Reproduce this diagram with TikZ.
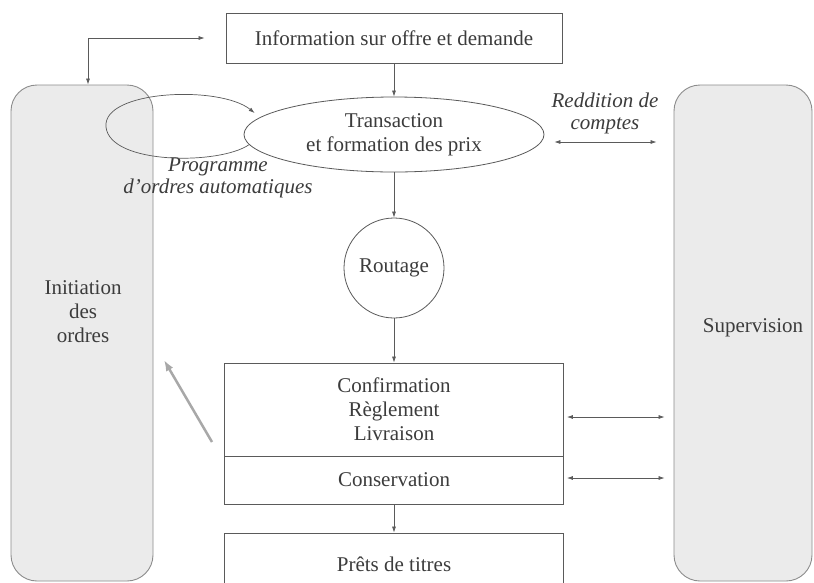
\documentclass[tikz,border=0pt]{standalone}
\usepackage{fontspec}
\setmainfont{Liberation Serif}
\usetikzlibrary{shapes.geometric, arrows.meta, calc}
\definecolor{linegray}{HTML}{5A5A5A}
\definecolor{txtgray}{HTML}{3C3C3C}
\definecolor{panelfill}{HTML}{EBEBEB}
\definecolor{panelline}{HTML}{8C8C8C}
\definecolor{hintgray}{HTML}{A8A8A8}

\begin{document}
\begin{tikzpicture}[x=1pt, y=-1pt,
		every node/.style={font=\fontsize{21}{24}\selectfont, text=txtgray, align=center},
		box/.style={draw=linegray, line width=.8pt, rectangle, inner sep=0pt},
		panel/.style={draw=panelline, fill=panelfill, line width=.9pt, rounded corners=26pt, inner sep=0pt},
		conn/.style={draw=linegray, line width=.7pt, -{Latex[length=6pt,width=4pt]}},
		biconn/.style={draw=linegray, line width=.7pt, {Latex[length=6pt,width=4pt]}-{Latex[length=6pt,width=4pt]}},
		lbl/.style={font=\fontsize{21}{22}\selectfont\itshape}]
	\useasboundingbox (0,0) rectangle (814,582);
	\fill[white] (0,0) rectangle (814,582);
	% panneaux lateraux
	\node[panel, minimum width=142pt, minimum height=496pt] (ini) at (82,333) {};
	\node (initxt) at (83,312) {Initiation\\des\\ordres};
	\node[panel, minimum width=138pt, minimum height=496pt] (sup) at (743,333) {};
	\node (suptxt) at (753,328) {Supervision};
	% colonne centrale
	\node[box, minimum width=336pt, minimum height=50pt] (info) at (394,38) {Information sur offre et demande};
	\node[draw=linegray, line width=.8pt, ellipse, inner sep=0pt, minimum width=300pt, minimum height=75pt] (trans) at (394,134.5) {Transaction\\et formation des prix};
	\node[draw=linegray, line width=.8pt, circle, inner sep=0pt, minimum size=100pt] (rout) at (394,268) {Routage};
	\node[box, minimum width=339pt, minimum height=93pt] (conf) at (394,409.5) {Confirmation\\R\`eglement\\Livraison};
	\node[box, minimum width=339pt, minimum height=48pt] (cons) at (394,480) {Conservation};
	\node[box, minimum width=339pt, minimum height=62pt] (prets) at (394,564) {Pr\^ets de titres};
	% libelles
	\node[lbl] (prog) at (218,178) {Programme\\d'ordres automatiques};
	\node[lbl] (redd) at (605,113) {Reddition de\\comptes};
	% fleches
	\draw[conn] (info.south) -- (trans.north);
	\draw[conn] (trans.south) -- (rout.north);
	\draw[conn] (rout.south) -- (conf.north);
	\draw[conn] (cons.south) -- (prets.north);
	\draw[biconn] ([xshift=6pt]ini.north) |- ([xshift=-21pt]info.west);
	\coordinate (loop) at (106,127);
	\draw[conn] (trans.184) .. controls (220,165) and (110,165) .. (loop) .. controls (102,90) and (220,85) .. ([xshift=-8pt,yshift=3pt]trans.172);
	\draw[biconn] ([xshift=10pt,yshift=-7.5pt]trans.east) coordinate (r1) -- ($(r1 -| sup.west)+(-17,0)$);
	\draw[biconn] ([xshift=3pt,yshift=-7.5pt]conf.east) coordinate (r2) -- ($(r2 -| sup.west)+(-9,0)$);
	\draw[biconn] ([xshift=3pt,yshift=2pt]cons.east) coordinate (r3) -- ($(r3 -| sup.west)+(-9,0)$);
	\coordinate (g1) at (212,442);
	\coordinate (g2) at (164,360);
	\draw[hintgray, line width=2.5pt, -{Latex[length=11pt,width=8pt]}] (g1) -- (g2);
\end{tikzpicture}
\end{document}
